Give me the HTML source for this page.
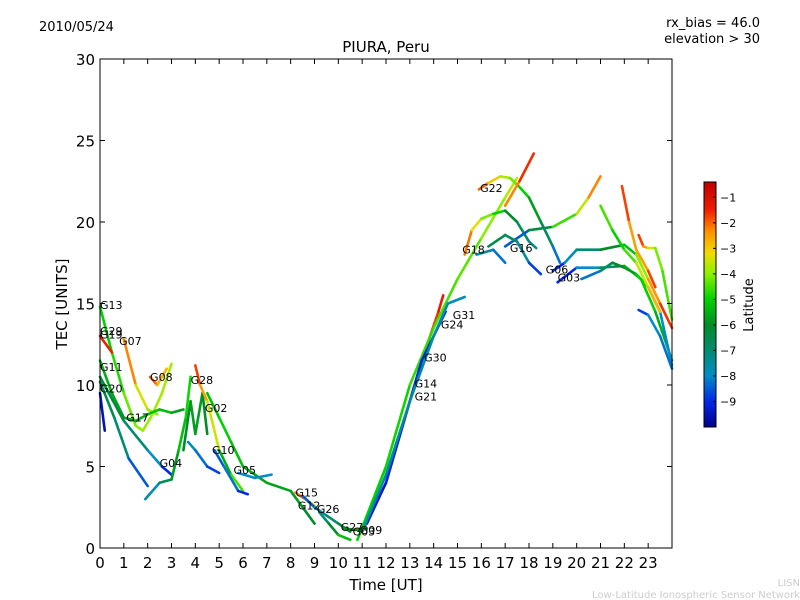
<!DOCTYPE html>
<html><head><meta charset="utf-8"><style>
body{margin:0;background:#fff;}
svg{display:block;font-family:"DejaVu Sans","Liberation Sans",sans-serif;}
</style></head><body>
<svg id="chart" width="800" height="600">
<rect x="0" y="0" width="800" height="600" fill="#fff"/>
<text x="39" y="31" font-size="13">2010/05/24</text>
<text x="760" y="27" font-size="13" text-anchor="end">rx_bias = 46.0</text>
<text x="760" y="43" font-size="13" text-anchor="end">elevation &gt; 30</text>
<text x="386" y="52" font-size="15" text-anchor="middle">PIURA, Peru</text>
<text x="386" y="590" font-size="15" text-anchor="middle">Time [UT]</text>
<text x="67" y="304" font-size="15" text-anchor="middle" transform="rotate(-90 67 304)">TEC [UNITS]</text>
<text x="800" y="586" font-size="10" fill="#ccc" text-anchor="end">LISN</text>
<text x="800" y="598" font-size="10" fill="#ccc" text-anchor="end">Low-Latitude Ionospheric Sensor Network</text>
<g id="plot"></g>
<g id="cbar"></g>
</svg>
<script>
const xTicks=[0,1,2,3,4,5,6,7,8,9,10,11,12,13,14,15,16,17,18,19,20,21,22,23];
const yTicks=[0,5,10,15,20,25,30];
const cbTicks=[-1,-2,-3,-4,-5,-6,-7,-8,-9];
const latMin=-10, latMax=-0.4;
// tracks: [time, tec, latitude]
const trkA=[[0,14.8,-5],[0.5,12,-5],[1,9.5,-4.5],[1.5,7.5,-4],[1.8,7.2,-4],[2.2,8.2,-3.8],[2.6,9.5,-3.8],[3,11.3,-3.8]];
const trkB=[[0,13,-1.5],[0.5,12,-1.5]];
const trkC=[[1,12.8,-1.5],[1.5,10,-3],[2,8.5,-3.8],[2.4,8.2,-4.2]];
const trkD=[[2.1,10.5,-1.5],[2.4,10,-2.5],[2.8,11,-3]];
const trkE=[[0,11.5,-5.5],[0.5,9.5,-5.5],[1,8,-5.8],[1.5,7.8,-5.5],[2,8.2,-5.5],[2.5,8.5,-5],[3,8.3,-5.5],[3.5,8.5,-6]];
const trkF=[[0,10.2,-6.5],[0.6,8,-6.5],[1.2,5.5,-7.5],[2,3.8,-9.5]];
const trkG=[[0,10.5,-6],[1,7.8,-6.5],[2,6,-7.5],[2.6,5,-8.5],[3,4.5,-9.5]];
const trkH=[[0,9.5,-9.5],[0.2,7.2,-9.5]];
const trkI=[[1.9,3,-8],[2.5,4,-7.5],[3,4.2,-6],[3.3,6,-5.5],[3.6,8,-5],[3.8,10.5,-4.8]];
const trkJ=[[3.5,6,-6.5],[3.8,9,-5.5],[4,7,-6],[4.3,9.5,-5.5],[4.5,7,-6.5]];
const trkK=[[4,11.2,-1.5],[4.2,10,-2],[4.5,9,-3],[5,6,-4],[5.5,4.5,-7],[6,3.5,-2]];
const trkL=[[4.5,9.5,-5.5],[5,8,-5],[5.5,6.5,-5],[6,5,-5.5],[6.5,4.5,-5.5],[7,4,-5.8],[8,3.5,-5.5],[8.5,2.5,-6],[9,1.5,-6]];
const trkM=[[3.7,6.5,-7.5],[4,6,-8],[4.5,5,-8.5],[5,4.6,-9]];
const trkN=[[4.8,6,-9],[5.2,5,-8],[5.8,3.5,-8.5],[6.2,3.3,-9.5]];
const trkO=[[5.8,4.6,-8.5],[6.5,4.3,-7.5],[7.2,4.5,-8.5]];
const trkP=[[8.2,3.4,-1.5],[8.6,3,-2.8],[9,2.6,-3.8]];
const trkQ=[[8.5,3.2,-9],[9,2.5,-8],[9.5,2,-7.5],[10,1.5,-6.5],[10.5,1,-6]];
const trkR=[[9.2,2.2,-7.5],[9.6,1.5,-6.5],[10,0.8,-5.5],[10.5,0.5,-5]];
const trkS=[[10.2,1.2,-9.5],[10.8,1.1,-2.5],[11.2,1.2,-9]];
const trkT=[[11,1,-1.5],[12,4,-1.5],[13,9,-1.5],[13.5,11.5,-1.8],[14.2,14.5,-1.5],[14.4,15.5,-1.2]];
const trkU=[[10.8,0.5,-5],[12,5,-5],[13,10,-4.8],[14,13.5,-4.5],[15,16.5,-4.5],[16,19,-4.2],[17,21.5,-3.8],[17.5,22.7,-3.5]];
const trkV=[[11.2,1.5,-9.5],[12,4,-9],[13,9,-9],[13.5,11.5,-9],[14,13,-9.2],[14.5,14.5,-9]];
const trkW=[[11,1,-7.5],[12,4.5,-7.5],[13,9,-7.5],[14,13,-7.5],[14.6,15,-7.8],[15.3,15.4,-8]];
const trkX=[[15.3,18,-1.5],[15.6,19.5,-2.8],[16,20.2,-3.8],[16.5,20.5,-4.5],[17,20.7,-5.5],[17.5,20,-6.5],[18,18.8,-7],[18.3,18.4,-7.5]];
const trkY=[[17,18.5,-9.5],[18,19.5,-7.5],[19,19.7,-5],[20,20.5,-4.2],[20.5,21.5,-3],[21,22.8,-1.5]];
const trkZ=[[15.9,22,-1.5],[16.3,22.4,-2.5],[16.8,22.8,-3.5],[17.2,22.7,-4],[17.5,22.3,-4.5],[18,21.5,-5.5],[18.5,20,-6],[19,18.5,-7.5],[19.3,17.5,-9]];
const trkAA=[[17,21,-2.5],[17.6,22.5,-2],[18.2,24.2,-1.2]];
const trkAB=[[16.3,18.5,-6.5],[17,19.2,-6.5],[17.5,18.8,-7],[18,17.5,-8],[18.5,16.8,-9.5]];
const trkAC=[[15.8,18,-7.5],[16.5,18.3,-7.5],[17,17.5,-9]];
const trkAD=[[19,17,-9.5],[19.5,17.5,-8.5],[20,18.3,-7.5],[21,18.3,-6.5],[22,18.6,-5.5],[22.5,18,-5],[23,16.5,-3],[23.5,15,-1.8],[24,13.5,-1.5]];
const trkAE=[[19.2,16.3,-9.5],[20,17.2,-8.5],[21,17.2,-7.5],[22,17.3,-6],[22.7,16.5,-5],[23.3,14.5,-5],[24,11.5,-6]];
const trkAF=[[20.2,16.5,-9],[21,17,-7.5],[21.5,17.5,-6],[22,17.2,-6],[22.5,16.8,-5.5],[23,16,-4.5],[23.5,14.5,-7],[24,11.2,-9]];
const trkAG=[[21,21,-4],[21.5,19.5,-5],[22,18.3,-5],[22.5,17.5,-4],[23,16,-3],[23.5,14.5,-2.5]];
const trkAH=[[21.9,22.2,-1.5],[22.2,20,-2],[22.5,18.3,-3],[23,17,-2],[23.3,16,-1.5]];
const trkAI=[[22.6,19.2,-1.5],[22.8,18.5,-2],[23,18.4,-3],[23.3,18.4,-3.8],[23.6,17,-4.5],[24,14,-4.5]];
const trkAJ=[[22.6,14.6,-9.5],[23,14.3,-8],[23.5,13,-8],[24,11,-8.5]];
const tracks=[trkA,trkB,trkC,trkD,trkE,trkF,trkG,trkH,trkI,trkJ,trkK,trkL,trkM,trkN,trkO,trkP,trkQ,trkR,trkS,trkT,trkU,trkV,trkW,trkX,trkY,trkZ,trkAA,trkAB,trkAC,trkAD,trkAE,trkAF,trkAG,trkAH,trkAI,trkAJ];
const labelNames=["G13","G29","G19","G07","G11","G20","G08","G28","G17","G02","G04","G10","G05","G15","G12","G26","G27","G03","G09","G14","G21","G30","G24","G31","G18","G16","G22","G06","G03"];
const labelT=[0,0,0,0.8,0,0,2.1,3.8,1.1,4.4,2.5,4.7,5.6,8.2,8.3,9.1,10.1,10.6,10.9,13.2,13.2,13.6,14.3,14.8,15.2,17.2,15.95,18.7,19.2];
const labelV=[14.9,13.3,13.1,12.7,11.1,9.8,10.5,10.3,8,8.6,5.2,6.0,4.8,3.4,2.6,2.4,1.3,1.0,1.1,10.1,9.3,11.7,13.7,14.3,18.3,18.4,22.1,17.1,16.6];

const NS="http://www.w3.org/2000/svg";
const X0=100,X1=672,Y0=548,Y1=59;
const xs=t=>X0+(X1-X0)*t/24;
const ys=v=>Y0-(Y0-Y1)*v/30;
const stops=[[-10,[0,0,140]],[-9,[0,40,230]],[-8,[0,140,200]],[-7,[0,140,110]],[-6,[0,140,40]],[-5,[0,210,0]],[-4,[140,240,0]],[-3.2,[240,220,0]],[-2.3,[255,140,0]],[-1.5,[240,30,0]],[-0.4,[190,0,0]]];
function jet(lat){
 if(lat<=stops[0][0])return `rgb(${stops[0][1].join(',')})`;
 for(let i=0;i<stops.length-1;i++){const a=stops[i],b=stops[i+1];
  if(lat<=b[0]){const f=(lat-a[0])/(b[0]-a[0]);
   return `rgb(${a[1].map((c,k)=>Math.round(c+(b[1][k]-c)*f)).join(',')})`;}}
 return `rgb(${stops[stops.length-1][1].join(',')})`;}
function mk(tag,attrs,parent){const e=document.createElementNS(NS,tag);for(const k in attrs)e.setAttribute(k,attrs[k]);parent.appendChild(e);return e;}
const plot=document.getElementById('plot');
tracks.forEach((tr,i)=>{
 const g=mk('g',{},plot);
 
 
 for(let j=0;j<tr.length-1;j++){
  const a=tr[j],b=tr[j+1];
  const s=mk('line',{x1:xs(a[0]),y1:ys(a[1]),x2:xs(b[0]),y2:ys(b[1]),stroke:jet((a[2]+b[2])/2),'stroke-width':2.6,'stroke-linecap':'round'},g);
  
  
 }
});
labelNames.forEach((n,i)=>{
 const t=mk('text',{x:xs(labelT[i]),y:ys(labelV[i])+4,'font-size':11},plot);
 t.textContent=n;
 
 
});
const fr=mk('rect',{x:X0,y:Y1,width:X1-X0,height:Y0-Y1,fill:'none',stroke:'#000','stroke-width':1},plot);


xTicks.forEach(t=>{
 const x=xs(t);
 mk('line',{x1:x,y1:Y0,x2:x,y2:Y0-5,stroke:'#000'},plot);
 mk('line',{x1:x,y1:Y1,x2:x,y2:Y1+5,stroke:'#000'},plot);
 const l=mk('text',{x:x,y:Y0+20,'font-size':15,'text-anchor':'middle'},plot);
 l.textContent=t;
 
 
});
yTicks.forEach(v=>{
 const y=ys(v);
 mk('line',{x1:X0,y1:y,x2:X0+5,y2:y,stroke:'#000'},plot);
 mk('line',{x1:X1,y1:y,x2:X1-5,y2:y,stroke:'#000'},plot);
 const l=mk('text',{x:X0-5,y:y+6,'font-size':15,'text-anchor':'end'},plot);
 l.textContent=v;
 
 
});
const cb=document.getElementById('cbar');
const CX=704,CW=12,CT=182,CB=427;
const cy=lat=>CB-(CB-CT)*(lat-latMin)/(latMax-latMin);
for(let y=CT;y<CB;y++){
 const lat=latMin+(latMax-latMin)*(CB-y-0.5)/(CB-CT);
 mk('rect',{x:CX,y:y,width:CW,height:1.2,fill:jet(lat)},cb);
}
mk('rect',{x:CX,y:CT,width:CW,height:CB-CT,fill:'none',stroke:'#000'},cb);
cbTicks.forEach(v=>{
 const y=cy(v);
 mk('line',{x1:CX+CW-3,y1:y,x2:CX+CW,y2:y,stroke:'#000'},cb);
 const l=mk('text',{x:CX+CW+4,y:y+4,'font-size':11},cb);
 l.textContent='\u2212'+Math.abs(v);
 
 
});
const ct=mk('text',{x:753,y:305,'font-size':13,'text-anchor':'middle',transform:'rotate(-90 753 305)'},cb);
ct.textContent='Latitude';


</script>
</body></html>
